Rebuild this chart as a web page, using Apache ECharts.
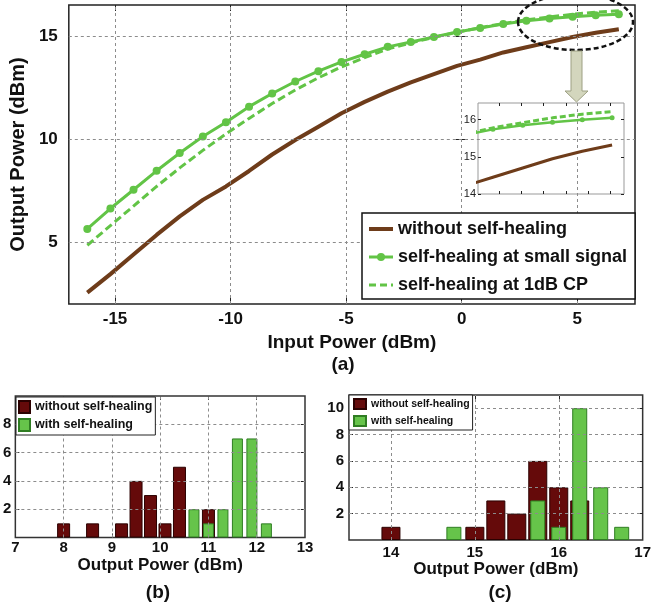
<!DOCTYPE html>
<html><head><meta charset="utf-8">
<script src="https://cdn.jsdelivr.net/npm/echarts@6/dist/echarts.min.js"></script>
<style>html,body{margin:0;padding:0;background:#fff}#c{width:654px;height:609px}</style>
</head><body><div id="c"></div>
<script>
// ---------- data ----------
const inputPower = [-16.2,-15.2,-14.2,-13.2,-12.2,-11.2,-10.2,-9.2,-8.2,-7.2,-6.2,-5.2,-4.2,-3.2,-2.2,-1.2,-0.2,0.8,1.8,2.8,3.8,4.8,5.8,6.8];
const outWithout = [2.55,3.45,4.4,5.35,6.25,7.05,7.7,8.45,9.25,9.95,10.6,11.25,11.8,12.3,12.75,13.15,13.55,13.85,14.2,14.45,14.7,14.95,15.15,15.32];
const outSmallSignal = [5.64,6.63,7.54,8.46,9.32,10.12,10.81,11.57,12.21,12.79,13.29,13.74,14.11,14.47,14.71,14.95,15.19,15.38,15.58,15.74,15.85,15.93,16.0,16.05];
const out1dBCP = [4.85,5.8,6.75,7.7,8.6,9.45,10.25,11.0,11.72,12.38,12.97,13.5,13.95,14.37,14.66,14.93,15.18,15.4,15.6,15.78,15.92,16.05,16.15,16.22];

const mainXTicks = [-15,-10,-5,0,5];
const mainYTicks = [5,10,15];
const insetYTicks = [14,15,16];
const insetXTicks = [3,3.75,4.5,5.25,6,6.75];

const bWithoutBins = [8.0,8.6,9.2,9.5,9.8,10.1,10.4,11.0];
const bWithoutCounts = [1,1,1,4,3,1,5,2];
const bWithBins = [10.7,11.0,11.3,11.6,11.9,12.2];
const bWithCounts = [2,1,2,7,7,1];
const bXLabels = [7,8,9,10,11,12,13];
const bXGrid = [8,9,10,11,12];
const bYTicks = [2,4,6,8];

const cWithoutBins = [14.0,15.0,15.25,15.5,15.75,16.0,16.25];
const cWithoutCounts = [1,1,3,2,6,4,3];
const cWithBins = [14.75,15.75,16.0,16.25,16.5,16.75];
const cWithCounts = [1,3,1,10,4,1];
const cXLabels = [14,15,16,17];
const cXGrid = [14,15,16];
const cYTicks = [2,4,6,8,10];

// ---------- styling ----------
const FONT = "'Liberation Sans', Arial, sans-serif";
const INK = '#111';
const BROWN = '#6e3c1a', GREEN = '#62c446', DRED = '#650a0a', BGREEN = '#66c44a';
const pairs = (xs, ys) => xs.map((x, i) => [x, ys[i]]);
const lbl = (size, margin, values, extra) => Object.assign({
  customValues: values, margin: margin, fontSize: size, fontWeight: 'bold', fontFamily: FONT, color: INK,
  formatter: v => (values.indexOf(+v) >= 0 ? String(v) : '')
}, extra || {});
const tick = (values, len) => ({show: true, inside: true, length: len, customValues: values, lineStyle: {color: '#222', width: 1}});
const gridLines = (xi, yi, xs, ys) => ({
  type: 'line', xAxisIndex: xi, yAxisIndex: yi, data: [], z: 1, silent: true,
  markLine: {silent: true, symbol: ['none', 'none'], label: {show: false}, animation: false,
    lineStyle: {color: '#8c8c8c', type: [3, 3], width: 1},
    data: xs.map(v => ({xAxis: v})).concat(ys.map(v => ({yAxis: v})))}
});
const nameStyle = size => ({fontSize: size, fontWeight: 'bold', fontFamily: FONT, color: INK});
// mirror axis that only carries inward ticks on the opposite side of the box
const mirror = (grid, pos, min, max, values, len) => ({
  type: 'value', gridIndex: grid, position: pos, min: min, max: max,
  axisLine: {show: false}, splitLine: {show: false}, axisLabel: {show: false}, axisTick: tick(values, len)
});

const chart = echarts.init(document.getElementById('c'), null, {renderer: 'canvas', width: 654, height: 609});

const option = {
  animation: false,
  backgroundColor: '#fff',
  grid: [
    {left: 64, top: 5, width: 571, height: 299, show: true, backgroundColor: '#fff', borderColor: '#222', borderWidth: 1.5},
    {left: 478, top: 103, width: 146, height: 91, show: true, backgroundColor: '#fff', borderColor: '#999', borderWidth: 1, z: 5},
    {left: 12, top: 396, width: 293, height: 141.5, show: true, backgroundColor: '#fff', borderColor: '#333', borderWidth: 1.5},
    {left: 349, top: 395, width: 299, height: 145, show: true, backgroundColor: '#fff', borderColor: '#333', borderWidth: 1.5}
  ],
  xAxis: [
    {type: 'value', gridIndex: 0, min: -17, max: 7.5, axisLine: {show: false}, splitLine: {show: false},
     axisTick: tick(mainXTicks, 6), axisLabel: lbl(17, 7, mainXTicks),
     name: 'Input Power (dBm)', nameLocation: 'middle', nameGap: 29, nameTextStyle: nameStyle(19)},
    {type: 'value', gridIndex: 1, min: 2.3, max: 7.2, z: 6, axisLine: {show: false}, splitLine: {show: false},
     axisTick: tick(insetXTicks, 3), axisLabel: {show: false}},
    {type: 'value', gridIndex: 2, min: 7, max: 13, axisLine: {show: false}, splitLine: {show: false},
     axisTick: tick(bXGrid, 4), axisLabel: lbl(15, 3, bXLabels),
     name: 'Output Power (dBm)', nameLocation: 'middle', nameGap: 18, nameTextStyle: nameStyle(17)},
    {type: 'value', gridIndex: 2, min: 7, max: 13, show: false},
    {type: 'value', gridIndex: 3, min: 13.5, max: 17, axisLine: {show: false}, splitLine: {show: false},
     axisTick: tick(cXGrid, 4), axisLabel: lbl(15, 5, cXLabels),
     name: 'Output Power (dBm)', nameLocation: 'middle', nameGap: 20, nameTextStyle: nameStyle(17)},
    {type: 'value', gridIndex: 3, min: 13.5, max: 17, show: false},
    mirror(0, 'top', -17, 7.5, mainXTicks, 6),
    mirror(2, 'top', 7, 13, bXGrid, 4),
    mirror(3, 'top', 13.5, 17, cXGrid, 4),
    Object.assign(mirror(1, 'top', 2.3, 7.2, insetXTicks, 3), {z: 6})
  ],
  yAxis: [
    {type: 'value', gridIndex: 0, min: 2, max: 16.5, axisLine: {show: false}, splitLine: {show: false},
     axisTick: tick(mainYTicks, 6), axisLabel: lbl(17, 11, mainYTicks),
     name: 'Output Power (dBm)', nameLocation: 'middle', nameGap: 38, nameTextStyle: nameStyle(20)},
    {type: 'value', gridIndex: 1, min: 14, max: 16.45, z: 6, axisLine: {show: false}, splitLine: {show: false},
     axisTick: tick(insetYTicks, 3), axisLabel: lbl(11, 2, insetYTicks, {fontWeight: 'normal', color: '#222'})},
    {type: 'value', gridIndex: 2, min: 0, max: 10, axisLine: {show: false}, splitLine: {show: false},
     axisTick: tick(bYTicks, 4), axisLabel: lbl(15, 4, bYTicks)},
    {type: 'value', gridIndex: 3, min: 0, max: 11, axisLine: {show: false}, splitLine: {show: false},
     axisTick: tick(cYTicks, 4), axisLabel: lbl(15, 5, cYTicks)},
    mirror(0, 'right', 2, 16.5, mainYTicks, 6),
    mirror(2, 'right', 0, 10, bYTicks, 4),
    mirror(3, 'right', 0, 11, cYTicks, 4),
    Object.assign(mirror(1, 'right', 14, 16.45, insetYTicks, 3), {z: 6})
  ],
  legend: [
    {data: [
       {name: 'without self-healing', itemStyle: {opacity: 0}, lineStyle: {width: 4, color: BROWN}},
       {name: 'self-healing at small signal', lineStyle: {width: 3, color: GREEN}},
       {name: 'self-healing at 1dB CP', itemStyle: {opacity: 0}, lineStyle: {width: 3, color: GREEN, type: [7, 4]}}
     ],
     orient: 'vertical', left: 362, top: 213, padding: [7, 8, 5, 5], itemGap: 10, itemWidth: 24, itemHeight: 10,
     backgroundColor: '#fff', borderColor: '#111', borderWidth: 1.5, selectedMode: false, z: 8,
     textStyle: {fontSize: 18, fontWeight: 'bold', fontFamily: FONT, color: INK}},
    {data: ['without self-healing ', 'with self-healing'], formatter: n => n.trim(), icon: 'rect',
     orient: 'vertical', left: 16, top: 397, padding: [3, 3, 3, 2], itemGap: 4, itemWidth: 11, itemHeight: 12,
     backgroundColor: '#fff', borderColor: '#222', borderWidth: 1, selectedMode: false, z: 8,
     textStyle: {fontSize: 12.5, fontWeight: 'bold', fontFamily: FONT, color: INK}},
    {data: ['without self-healing ', 'with self-healing'], formatter: n => n.trim(), icon: 'rect',
     orient: 'vertical', left: 349, top: 395, padding: [3, 3, 3, 4], itemGap: 5, itemWidth: 12, itemHeight: 10,
     backgroundColor: '#fff', borderColor: '#222', borderWidth: 1, selectedMode: false, z: 8,
     textStyle: {fontSize: 10.5, fontWeight: 'bold', fontFamily: FONT, color: INK}}
  ],
  series: [
    gridLines(0, 0, mainXTicks, mainYTicks),
    {type: 'line', name: 'without self-healing', xAxisIndex: 0, yAxisIndex: 0, data: pairs(inputPower, outWithout),
     symbol: 'none', lineStyle: {color: BROWN, width: 4}, itemStyle: {color: BROWN}, z: 3},
    {type: 'line', name: 'self-healing at 1dB CP', xAxisIndex: 0, yAxisIndex: 0, data: pairs(inputPower, out1dBCP),
     symbol: 'none', lineStyle: {color: GREEN, width: 3, type: [8, 4]}, itemStyle: {color: GREEN}, z: 3},
    {type: 'line', name: 'self-healing at small signal', xAxisIndex: 0, yAxisIndex: 0, data: pairs(inputPower, outSmallSignal),
     symbol: 'circle', symbolSize: 8, lineStyle: {color: GREEN, width: 3}, itemStyle: {color: GREEN}, z: 4},
    // inset (zoom of the same curves)
    {type: 'line', name: 'without self-healing', xAxisIndex: 1, yAxisIndex: 1, data: pairs(inputPower, outWithout),
     symbol: 'none', clip: true, lineStyle: {color: BROWN, width: 3}, z: 6},
    {type: 'line', name: 'self-healing at 1dB CP', xAxisIndex: 1, yAxisIndex: 1, data: pairs(inputPower, out1dBCP),
     symbol: 'none', clip: true, lineStyle: {color: GREEN, width: 3, type: [6, 3]}, z: 6},
    {type: 'line', name: 'self-healing at small signal', xAxisIndex: 1, yAxisIndex: 1, data: pairs(inputPower, outSmallSignal),
     symbol: 'circle', symbolSize: 5, clip: true, lineStyle: {color: GREEN, width: 2.5}, itemStyle: {color: GREEN}, z: 6},
    // histogram (b)
    gridLines(2, 2, bXGrid, bYTicks),
    {type: 'bar', name: 'without self-healing ', xAxisIndex: 2, yAxisIndex: 2, data: pairs(bWithoutBins, bWithoutCounts),
     barWidth: 13, itemStyle: {color: DRED, borderColor: '#2b0000', borderWidth: 1}, z: 3},
    {type: 'bar', name: 'with self-healing', xAxisIndex: 3, yAxisIndex: 2, data: pairs(bWithBins, bWithCounts),
     barWidth: 11, itemStyle: {color: BGREEN, borderColor: '#2f7d22', borderWidth: 1}, z: 4},
    // histogram (c)
    gridLines(4, 3, cXGrid, cYTicks),
    {type: 'bar', name: 'without self-healing ', xAxisIndex: 4, yAxisIndex: 3, data: pairs(cWithoutBins, cWithoutCounts),
     barWidth: 19, itemStyle: {color: DRED, borderColor: '#2b0000', borderWidth: 1}, z: 3},
    {type: 'bar', name: 'with self-healing', xAxisIndex: 5, yAxisIndex: 3, data: pairs(cWithBins, cWithCounts),
     barWidth: 15, itemStyle: {color: BGREEN, borderColor: '#2f7d22', borderWidth: 1}, z: 4}
  ],
  graphic: [
    {type: 'ellipse', z: 100, shape: {cx: 575.5, cy: 22, rx: 57.5, ry: 28},
     style: {fill: 'none', stroke: '#111', lineWidth: 2.5, lineDash: [5, 3]}},
    {type: 'polygon', z: 100, shape: {points: [[571, 51], [582, 51], [582, 91], [588, 91], [576.5, 102], [565, 91], [571, 91]]},
     style: {fill: '#d3d6bd', stroke: '#9da083', lineWidth: 1}},
    {type: 'text', z: 100, x: 343, y: 365, style: {text: '(a)', font: 'bold 19px ' + FONT, fill: INK, align: 'center', verticalAlign: 'middle'}},
    {type: 'text', z: 100, x: 158, y: 593, style: {text: '(b)', font: 'bold 19px ' + FONT, fill: INK, align: 'center', verticalAlign: 'middle'}},
    {type: 'text', z: 100, x: 500, y: 593, style: {text: '(c)', font: 'bold 19px ' + FONT, fill: INK, align: 'center', verticalAlign: 'middle'}}
  ]
};
chart.setOption(option);
</script>
</body></html>
